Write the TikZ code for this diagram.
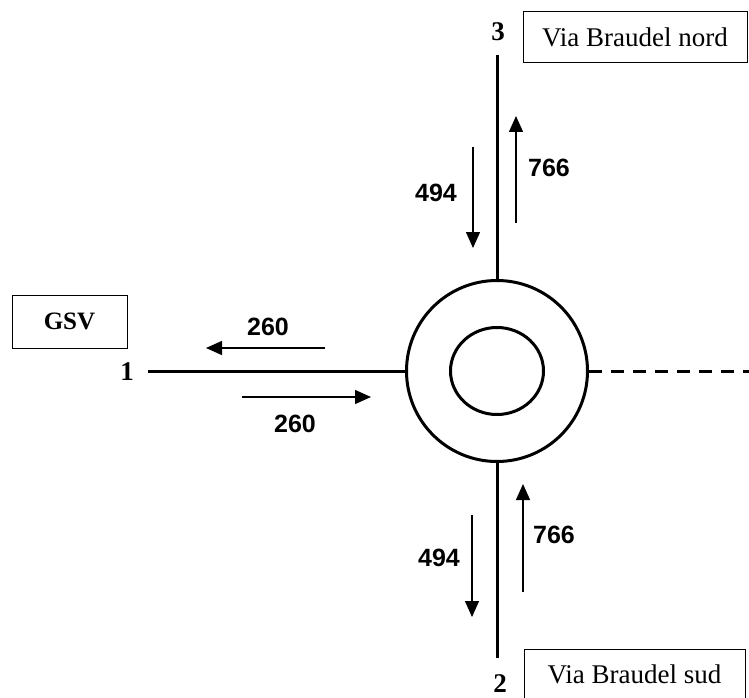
\documentclass[tikz,border=0pt]{standalone}
\usepackage{fontspec}
\setmainfont{Liberation Serif}
\newfontfamily\arialfont{Liberation Sans}
\usetikzlibrary{shapes.geometric,arrows.meta}
\tikzset{
  road/.style={line width=3pt},
  flow/.style={line width=1.4pt,-{Triangle[length=16pt,width=14pt]}},
  flowlbl/.style={font=\arialfont\bfseries\fontsize{25}{30}\selectfont,inner sep=0pt},
  armlbl/.style={font=\bfseries\fontsize{27}{30}\selectfont,inner sep=0pt},
  namebox/.style={draw,line width=1pt,inner sep=0pt,font=\fontsize{27}{30}\selectfont},
}
\begin{document}
\begin{tikzpicture}[x=1pt,y=-1pt]
\useasboundingbox (0,0) rectangle (749,698);
% roundabout
\node[circle,draw,line width=3pt,minimum size=181pt,inner sep=0pt] (rb) at (497,371) {};
\node[ellipse,draw,line width=3pt,minimum width=93pt,minimum height=87pt,inner sep=0pt] (isl) at (497,371) {};
% arm ends
\coordinate (e1) at (148,371);
\coordinate (e2) at (497,658);
\coordinate (e3) at (497,55);
\coordinate (e4) at (749,371);
\draw[road] (e1) -- (rb.west);
\draw[road] (rb.south) -- (e2);
\draw[road] (e3) -- (rb.north);
\draw[road,dash pattern=on 13pt off 9pt] (rb.east) -- (e4);
% arm numbers
\node[armlbl] (n1) at (127,372) {1};
\node[armlbl] (n2) at (500,684) {2};
\node[armlbl] (n3) at (498,32) {3};
% name boxes
\node[namebox,font=\bfseries\fontsize{25}{30}\selectfont,minimum width=115pt,minimum height=53pt] (gsv) at (69.5,321.5) {GSV};
\node[namebox,minimum width=224pt,minimum height=51pt] (nord) at (635,37.5) {Via Braudel nord};
\node[namebox,minimum width=221pt,minimum height=51pt] (sud) at (634.5,674.5) {Via Braudel sud};
% flows arm 1
\coordinate (a1s) at (325,348); \coordinate (a1e) at (206,348);
\draw[flow] (a1s) -- (a1e);
\node[flowlbl] (l1a) at (268,327) {260};
\coordinate (b1s) at (242,397); \coordinate (b1e) at (371,397);
\draw[flow] (b1s) -- (b1e);
\node[flowlbl] (l1b) at (295,424) {260};
% flows arm 3
\coordinate (a3s) at (473,147); \coordinate (a3e) at (473,248);
\draw[flow] (a3s) -- (a3e);
\node[flowlbl] (l3a) at (436,193) {494};
\coordinate (b3s) at (516,223); \coordinate (b3e) at (516,116);
\draw[flow] (b3s) -- (b3e);
\node[flowlbl] (l3b) at (549,168) {766};
% flows arm 2
\coordinate (a2s) at (472,515); \coordinate (a2e) at (472,617);
\draw[flow] (a2s) -- (a2e);
\node[flowlbl] (l2a) at (439,558) {494};
\coordinate (b2s) at (523,592); \coordinate (b2e) at (523,484);
\draw[flow] (b2s) -- (b2e);
\node[flowlbl] (l2b) at (554,535) {766};
\end{tikzpicture}
\end{document}
